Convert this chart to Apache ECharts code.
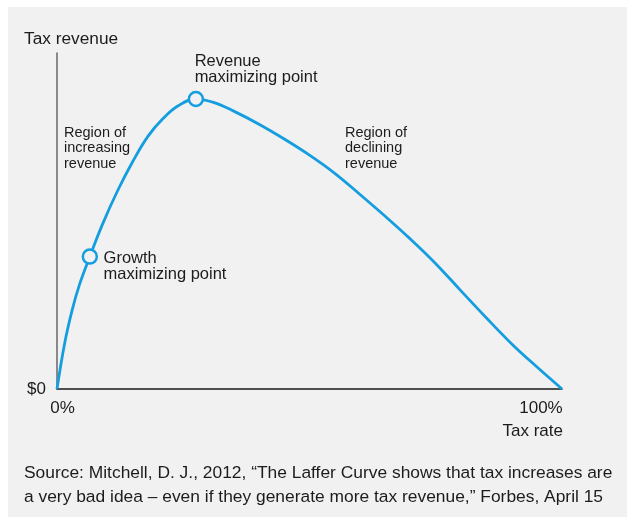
<!DOCTYPE html>
<html>
<head>
<meta charset="utf-8">
<script src="https://cdn.jsdelivr.net/npm/echarts@6/dist/echarts.min.js"></script>
<style>
html,body{margin:0;padding:0;background:#fff;}
#chart{width:627px;height:517px;}
</style>
</head>
<body>
<div id="chart"></div>
<script>
// Data (tax rate %, revenue as % of axis height)
var taxRate = [0, 1.5, 3, 4.5, 6.5, 9, 12, 15, 18, 21, 24, 27.5, 31, 35, 40, 45, 50, 55, 60, 65, 70, 75, 80, 85, 90, 95, 100];
var revenue = [0, 13.5, 23.5, 31.3, 39.4, 49, 59, 67.7, 75.2, 80.5, 84.3, 86.3, 85.3, 82.7, 78.8, 74.4, 69.6, 64.2, 57.9, 51.4, 44.6, 37.3, 29.2, 21.2, 13.5, 6.6, 0];
var pointNames = ['Growth\nmaximizing point', 'Revenue\nmaximizing point'];
var pointRate = [6.5, 27.5];
var pointRevenue = [39.4, 86.3];
var xTickValues = [0, 100];
var xTickLabels = ['0%', '100%'];
var yTickValues = [0];
var yTickLabels = ['$0'];
var yAxisTitle = 'Tax revenue';
var xAxisTitle = 'Tax rate';
var regionLabels = ['Region of\nincreasing\nrevenue', 'Region of\ndeclining\nrevenue'];
var sourceText = 'Source: Mitchell, D. J., 2012, \u201cThe Laffer Curve shows that tax increases are\na very bad idea \u2013 even if they generate more tax revenue,\u201d Forbes, April 15';

var FONT = '"Liberation Sans", Arial, Helvetica, sans-serif';
var TXT = '#1c1c1c';
var BLUE = '#149ee0';
var BG = '#f1f1f1';

var chart = echarts.init(document.getElementById('chart'), null, {renderer: 'canvas'});

var curve = taxRate.map(function (x, i) { return [x, revenue[i]]; });
var pts = pointRate.map(function (x, i) { return {value: [x, pointRevenue[i]], name: pointNames[i]}; });
pts[0].label = {position: [22, 2], align: 'left', verticalAlign: 'top'};
pts[1].label = {position: [7, -37], align: 'left', verticalAlign: 'top'};

var option = {
  backgroundColor: '#ffffff',
  animation: false,
  grid: {left: 57, right: 65, top: 53, bottom: 128, containLabel: false},
  xAxis: {
    type: 'value', min: 0, max: 100,
    axisLine: {show: true, lineStyle: {color: '#1a1a1a', width: 1.5}},
    axisTick: {show: false},
    splitLine: {show: false},
    axisLabel: {
      customValues: xTickValues,
      margin: 10,
      formatter: function (v) {
        var i = xTickValues.indexOf(v);
        return i === 0 ? '{a|' + xTickLabels[0] + '}' : '{b|' + xTickLabels[i] + '}';
      },
      rich: {
        a: {fontSize: 17, fontFamily: FONT, color: TXT, padding: [0, 0, 0, 11], lineHeight: 18},
        b: {fontSize: 17, fontFamily: FONT, color: TXT, padding: [0, 42, 0, 0], lineHeight: 18}
      }
    }
  },
  yAxis: {
    type: 'value', min: 0, max: 100,
    axisLine: {show: true, lineStyle: {color: '#666666', width: 1.5}},
    axisTick: {show: false},
    splitLine: {show: false},
    axisLabel: {
      customValues: yTickValues,
      margin: 11,
      fontSize: 17, fontFamily: FONT, color: TXT,
      formatter: function (v) { return yTickLabels[yTickValues.indexOf(v)]; }
    }
  },
  graphic: [
    {type: 'rect', z: -10, silent: true, shape: {x: 8, y: 7, width: 640, height: 540}, style: {fill: BG}},
    {type: 'text', left: 24, top: 31, style: {text: yAxisTitle, font: '17.3px ' + FONT, fill: TXT}},
    {type: 'text', x: 563, y: 431, style: {text: xAxisTitle, font: '17px ' + FONT, fill: TXT, align: 'right', verticalAlign: 'middle'}},
    {type: 'text', x: 64, y: 125, style: {text: regionLabels[0], font: '14.5px ' + FONT, fill: TXT, lineHeight: 15.5}},
    {type: 'text', x: 345, y: 125, style: {text: regionLabels[1], font: '14.5px ' + FONT, fill: TXT, lineHeight: 15.5}},
    {type: 'text', x: 24, y: 461.5, style: {text: sourceText, font: '17.4px ' + FONT, fill: TXT, lineHeight: 23.5}}
  ],
  series: [
    {
      type: 'line',
      data: curve,
      smooth: 0.4,
      showSymbol: false,
      lineStyle: {color: BLUE, width: 2.8},
      z: 2
    },
    {
      type: 'scatter',
      data: pts,
      symbol: 'circle',
      symbolSize: 14,
      itemStyle: {color: BG, borderColor: BLUE, borderWidth: 2.5, opacity: 1},
      z: 3,
      label: {
        show: true,
        formatter: function (p) { return p.name; },
        fontSize: 16.5, fontFamily: FONT, color: TXT, lineHeight: 16
      }
    }
  ]
};
chart.setOption(option);
</script>
</body>
</html>
